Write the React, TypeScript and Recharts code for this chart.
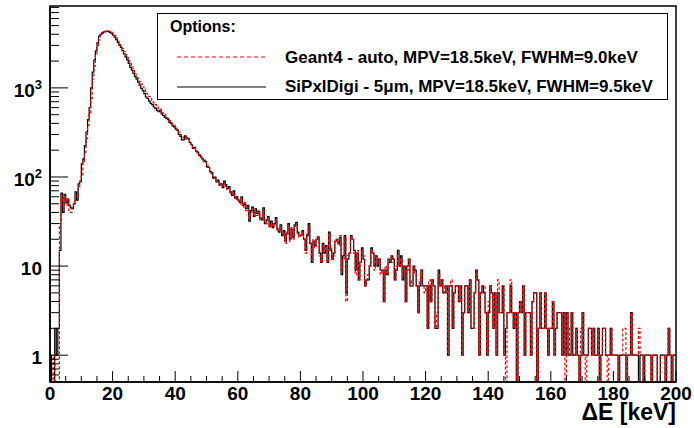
import { LineChart, Line, XAxis, YAxis, ReferenceArea, Legend } from "recharts";

// 0.5 keV bins, 0..200 keV
const BIN = 0.5;
const X_MAX = 200;
const Y_MIN = 0.5;
const Y_MAX = 8300;

const seriesNames = [
  "Geant4 - auto, MPV=18.5keV, FWHM=9.0keV",
  "SiPxlDigi - 5\u03bcm, MPV=18.5keV, FWHM=9.5keV",
];

// Geant4 - auto (red dashed)
const geant4 = [
  0, 0, 1, 0, 0, 0, 30, 62, 50, 60, 48, 58, 42, 40, 48, 52, 60, 62, 75, 88,
  105, 150, 190, 270, 380, 520, 760, 1250, 1750, 2300, 2850, 3450, 3850, 4050, 4200, 4280, 4330, 4350, 4320, 4200,
  4060, 3880, 3650, 3420, 3200, 2980, 2760, 2560, 2380, 2200, 2030, 1880, 1720, 1600, 1480, 1370, 1280, 1180, 1100, 1030,
  960, 900, 850, 800, 760, 720, 680, 650, 615, 590, 580, 545, 520, 500, 480, 455, 430, 415, 395, 380,
  360, 340, 320, 300, 285, 275, 280, 265, 262, 240, 232, 215, 208, 196, 185, 178, 165, 158, 148, 145,
  135, 125, 118, 108, 100, 98, 92, 88, 85, 80, 80, 84, 78, 72, 75, 66, 64, 66, 60, 56,
  54, 50, 56, 46, 52, 42, 46, 35, 40, 44, 38, 40, 37, 42, 33, 35, 42, 31, 30, 34,
  27, 30, 28, 29, 33, 25, 26, 27, 23, 24, 18, 24, 28, 19, 27, 20, 27, 29, 23, 21,
  23, 24, 21, 14, 23, 28, 18, 12, 20, 16, 21, 22, 13, 11, 17, 15, 16, 11, 23, 16,
  12, 13, 20, 19, 17, 22, 9, 12, 21, 4, 13, 14, 21, 20, 14, 8, 15, 7, 11, 15,
  13, 6, 7, 8, 10, 15, 14, 9, 13, 11, 12, 8, 9, 4, 10, 8, 11, 12, 13, 11,
  7, 10, 14, 10, 12, 8, 10, 4, 9, 12, 6, 7, 10, 8, 6, 3, 7, 9, 6, 5,
  6, 2, 7, 4, 7, 6, 2, 3, 8, 6, 7, 5, 6, 6, 1, 6, 7, 2, 5, 6,
  6, 4, 6, 1, 3, 6, 6, 3, 7, 2, 2, 5, 9, 7, 1, 5, 6, 6, 3, 1,
  4, 6, 5, 2, 5, 1, 7, 3, 3, 6, 1, 0, 3, 3, 7, 3, 2, 3, 0, 3,
  4, 3, 6, 1, 3, 3, 3, 1, 4, 5, 5, 0, 2, 5, 2, 2, 5, 2, 1, 2,
  2, 4, 1, 2, 3, 3, 3, 1, 3, 0, 3, 1, 2, 3, 1, 1, 2, 1, 0, 2,
  3, 1, 0, 1, 2, 2, 1, 2, 1, 1, 2, 0, 1, 2, 2, 1, 0, 1, 2, 1,
  1, 1, 1, 0, 1, 1, 2, 2, 0, 1, 1, 3, 1, 1, 1, 1, 2, 1, 1, 0,
  1, 1, 1, 1, 0, 1, 1, 1, 0, 0, 1, 1, 1, 0, 1, 2, 1, 0, 1, 1,
];

// SiPxlDigi - 5um (black solid)
const siPxlDigi = [
  1, 0, 0, 2, 1, 2, 15, 66, 40, 64, 52, 56, 48, 45, 44, 50, 68, 55, 84, 90,
  140, 160, 225, 320, 440, 600, 1000, 1500, 2050, 2600, 3200, 3800, 4000, 4150, 4250, 4300, 4350, 4280, 4200, 4050,
  3900, 3700, 3480, 3250, 3020, 2850, 2620, 2400, 2230, 2060, 1880, 1700, 1580, 1450, 1340, 1250, 1160, 1070, 990, 930,
  860, 790, 760, 710, 670, 650, 610, 590, 560, 540, 560, 510, 490, 470, 455, 440, 410, 400, 375, 365,
  345, 335, 300, 285, 260, 262, 290, 275, 270, 245, 230, 210, 215, 195, 190, 175, 168, 160, 155, 150,
  130, 128, 115, 112, 97, 100, 88, 92, 81, 84, 76, 90, 82, 74, 78, 68, 62, 70, 58, 60,
  55, 52, 60, 48, 50, 44, 48, 32, 42, 46, 36, 44, 39, 41, 35, 33, 45, 30, 33, 36,
  28, 32, 27, 30, 35, 26, 24, 29, 22, 25, 19, 23, 30, 20, 26, 21, 29, 31, 24, 22,
  22, 25, 20, 15, 22, 30, 18, 11, 19, 17, 20, 21, 14, 11, 18, 14, 17, 11, 24, 15,
  12, 14, 19, 20, 18, 21, 8, 13, 22, 5, 12, 14, 22, 20, 15, 9, 14, 7, 11, 16,
  12, 6, 7, 7, 10, 16, 14, 10, 13, 10, 12, 9, 9, 4, 9, 8, 12, 11, 13, 12,
  7, 9, 15, 10, 13, 7, 10, 4, 10, 12, 6, 6, 10, 9, 6, 3, 6, 9, 6, 6,
  6, 2, 6, 4, 7, 6, 2, 2, 9, 6, 7, 5, 5, 6, 1, 6, 6, 2, 5, 6,
  6, 4, 6, 1, 3, 6, 6, 3, 7, 2, 2, 5, 9, 7, 1, 5, 6, 5, 3, 1,
  3, 6, 5, 2, 5, 1, 5, 3, 3, 6, 1, 2, 3, 3, 6, 3, 2, 3, 0, 3,
  4, 3, 6, 1, 3, 3, 3, 1, 4, 5, 5, 0, 2, 5, 2, 2, 5, 2, 1, 2,
  2, 4, 1, 2, 3, 3, 3, 1, 3, 1, 3, 1, 1, 3, 1, 1, 2, 1, 0, 1,
  3, 1, 1, 1, 2, 2, 1, 2, 1, 1, 2, 0, 1, 2, 2, 1, 1, 1, 2, 1,
  1, 1, 1, 0, 1, 1, 1, 1, 0, 1, 1, 3, 1, 1, 1, 1, 0, 1, 1, 0,
  1, 1, 1, 1, 0, 1, 1, 1, 0, 0, 1, 1, 1, 0, 1, 2, 1, 0, 1, 1,
];

const xTicks = [
  0, 5, 10, 15, 20, 25, 30, 35, 40, 45, 50, 55, 60, 65, 70, 75, 80, 85, 90, 95, 100,
  105, 110, 115, 120, 125, 130, 135, 140, 145, 150, 155, 160, 165, 170, 175, 180, 185, 190, 195, 200,
];
const xLabels = [0, 20, 40, 60, 80, 100, 120, 140, 160, 180, 200];

const yTicks = [
  0.6, 0.7, 0.8, 0.9, 1, 2, 3, 4, 5, 6, 7, 8, 9, 10, 20, 30, 40, 50, 60, 70, 80, 90,
  100, 200, 300, 400, 500, 600, 700, 800, 900, 1000, 2000, 3000, 4000, 5000, 6000, 7000, 8000,
];
const yDecades = [1, 10, 100, 1000];
const yExponents = ["", "", "2", "3"];

const FONT = "'Liberation Sans', Arial, Helvetica, sans-serif";
// zero bins go below the axis so the step drops to the frame
const ZERO = 0.3;

const rows = geant4.map((g, i) => ({
  e: i * BIN,
  g4: g > 0 ? g : ZERO,
  digi: siPxlDigi[i] > 0 ? siPxlDigi[i] : ZERO,
}));
rows.push({ ...rows[rows.length - 1], e: X_MAX });

function XTick({ x, y, payload }: any) {
  const v = payload.value;
  const major = xLabels.includes(v);
  return (
    <g>
      <line x1={x} x2={x} y1={y} y2={y - (major ? 11 : 6)} stroke="#000" strokeWidth={1} />
      {major && (
        <text x={x} y={y + 18} textAnchor="middle" fontFamily={FONT} fontWeight="bold" fontSize={19} fill="#000">
          {v}
        </text>
      )}
    </g>
  );
}

function YTick({ x, y, payload }: any) {
  const v = payload.value;
  const k = yDecades.indexOf(v);
  const major = k >= 0;
  return (
    <g>
      <line x1={x} x2={x + (major ? 18 : 9)} y1={y} y2={y} stroke="#000" strokeWidth={1} />
      {major && (
        <text x={x - 8} y={y + 9} textAnchor="end" fontFamily={FONT} fontWeight="bold" fontSize={19} fill="#000">
          {yExponents[k] ? "10" : String(v)}
          {yExponents[k] && (
            <tspan fontSize={13} dy={-8}>
              {yExponents[k]}
            </tspan>
          )}
        </text>
      )}
    </g>
  );
}

function AxisTitle({ viewBox }: any) {
  return (
    <text
      x={viewBox.x + viewBox.width}
      y={viewBox.y + 38}
      textAnchor="end"
      fontFamily={FONT}
      fontWeight="bold"
      fontSize={23}
      fill="#000"
    >
      {"\u0394E [keV]"}
    </text>
  );
}

function LegendBox() {
  return (
    <svg width={511} height={87} style={{ display: "block" }}>
      <rect x={0.5} y={0.5} width={510} height={86} fill="#fff" stroke="#000" strokeWidth={1} />
      <text x={13} y={19} fontFamily={FONT} fontWeight="bold" fontSize={16} fill="#000">
        Options:
      </text>
      <line x1={20} x2={109} y1={44} y2={44} stroke="#ff0000" strokeWidth={1} strokeDasharray="4 3" />
      <text x={128} y={50} fontFamily={FONT} fontWeight="bold" fontSize={17} fill="#000">
        {seriesNames[0]}
      </text>
      <line x1={20} x2={109} y1={74} y2={74} stroke="#000" strokeWidth={1} />
      <text x={128} y={79} fontFamily={FONT} fontWeight="bold" fontSize={17} fill="#000">
        {seriesNames[1]}
      </text>
    </svg>
  );
}

export default function App() {
  return (
    <div style={{ position: "absolute", left: 0, top: 0, width: 694, height: 428, background: "#fff" }}>
      <LineChart width={694} height={428} data={rows} margin={{ top: 6, right: 18, bottom: 0, left: 0 }}>
        <ReferenceArea x1={0} x2={X_MAX} y1={Y_MIN} y2={Y_MAX} fill="none" stroke="#000" strokeWidth={1.5} />
        <XAxis
          dataKey="e"
          type="number"
          domain={[0, X_MAX]}
          ticks={xTicks}
          interval={0}
          height={46}
          tickSize={0}
          tickMargin={0}
          tickLine={false}
          axisLine={{ stroke: "#000", strokeWidth: 1.5 }}
          tick={<XTick />}
          label={{ content: <AxisTitle /> }}
        />
        <YAxis
          type="number"
          scale="log"
          domain={[Y_MIN, Y_MAX]}
          allowDataOverflow
          ticks={yTicks}
          interval={0}
          width={50}
          tickSize={0}
          tickMargin={0}
          tickLine={false}
          axisLine={{ stroke: "#000", strokeWidth: 1.5 }}
          tick={<YTick />}
        />
        <Legend
          layout="horizontal"
          verticalAlign="middle"
          align="center"
          wrapperStyle={{ left: 157, top: 13, width: 511, height: 87 }}
          content={() => <LegendBox />}
        />
        <Line
          dataKey="digi"
          name={seriesNames[1]}
          type="stepAfter"
          stroke="#000"
          strokeWidth={1.2}
          dot={false}
          isAnimationActive={false}
        />
        <Line
          dataKey="g4"
          name={seriesNames[0]}
          type="stepAfter"
          stroke="#ff0000"
          strokeWidth={1.2}
          strokeDasharray="3 2"
          dot={false}
          isAnimationActive={false}
        />
      </LineChart>
    </div>
  );
}
